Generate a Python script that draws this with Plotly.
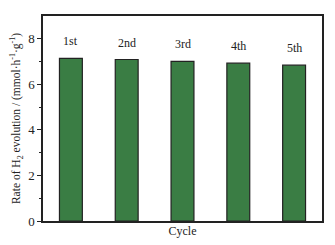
import plotly.graph_objects as go

cycles = ["1st", "2nd", "3rd", "4th", "5th"]
rates = [7.14, 7.09, 7.01, 6.93, 6.84]

fig = go.Figure()
fig.add_trace(go.Bar(
    x=cycles, y=rates, width=0.41,
    marker=dict(color="#3a7d44", line=dict(color="#222222", width=1.2)),
))
for c, v in zip(cycles, rates):
    fig.add_annotation(x=c, y=v, text=c, showarrow=False, yanchor="bottom", yshift=8,
                       font=dict(family="Liberation Serif", size=12, color="#222"))

fig.update_layout(
    width=335, height=245,
    margin=dict(l=43, r=13, t=16, b=24),
    paper_bgcolor="white", plot_bgcolor="white",
    showlegend=False,
    font=dict(family="Liberation Serif", size=12, color="#222"),
    bargap=0.59,
)
fig.update_xaxes(
    range=[-0.5, 4.5], showticklabels=False, ticks="", automargin=False,
    showline=True, linecolor="#222", linewidth=1.5, mirror=True,
    title=dict(text="Cycle", font=dict(size=12), standoff=5),
)
fig.update_yaxes(
    range=[0, 9], tickvals=[0, 2, 4, 6, 8], ticks="outside", ticklen=4, tickwidth=1.3, tickcolor="#222",
    minor=dict(tickvals=[1, 3, 5, 7], ticks="outside", ticklen=2.5, tickwidth=1.2, tickcolor="#222"),
    showgrid=False, zeroline=False, automargin=False,
    showline=True, linecolor="#222", linewidth=1.5, mirror=True,
    tickfont=dict(size=13),
    title=dict(text="Rate of H<sub>2</sub> evolution / (mmol·h<sup>-1</sup>·g<sup>-1</sup>)",
               font=dict(size=11.5), standoff=5),
)
fig.write_html("out.html", config={"displayModeBar": False},
               post_script="document.body.style.margin='0';document.body.style.overflow='hidden';")
